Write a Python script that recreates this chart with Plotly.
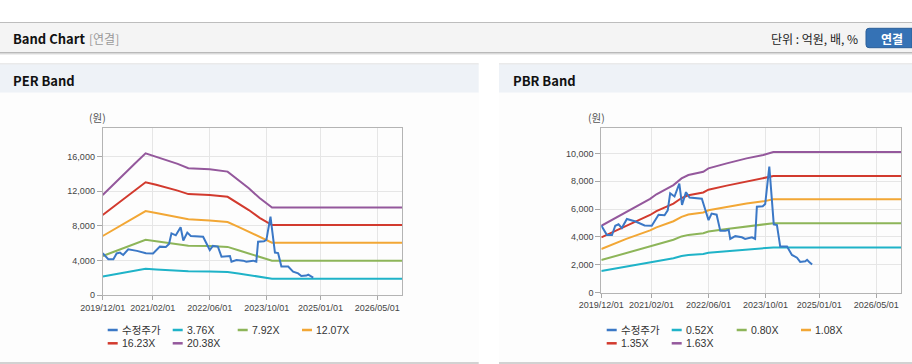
import plotly.graph_objects as go

# ---------------- data ----------------
price_name = "수정주가"
price_dates = ["2019-12-01", "2019-12-20", "2020-01-18", "2020-03-01", "2020-03-29", "2020-04-26",
               "2020-05-24", "2020-07-06", "2020-09-18", "2020-12-04", "2021-02-03", "2021-04-02",
               "2021-05-23", "2021-06-19", "2021-07-10", "2021-08-16", "2021-09-26", "2021-10-19",
               "2021-11-22", "2021-12-22", "2022-04-06", "2022-05-04", "2022-06-02", "2022-06-28",
               "2022-08-10", "2022-09-10", "2022-10-22", "2022-11-21", "2022-12-04", "2023-01-16",
               "2023-03-13", "2023-04-10", "2023-06-07", "2023-07-04", "2023-07-19", "2023-09-07",
               "2023-09-28", "2023-10-13", "2023-11-02", "2023-11-18", "2023-12-10", "2024-01-06",
               "2024-02-03", "2024-04-01", "2024-05-13", "2024-06-25", "2024-07-22", "2024-09-04",
               "2024-09-19", "2024-10-07", "2024-11-01"]
price_vals = [4820, 4500, 4130, 4130, 4800, 4900,
              4630, 5280, 5100, 4820, 4800, 5590,
              5550, 5900, 7130, 6900, 7830, 6300,
              7210, 6820, 6740, 5980, 5200, 5670,
              5590, 4430, 4430, 4500, 3850, 4050,
              3970, 3850, 3970, 3850, 6160, 6200,
              6360, 7520, 9050, 7300, 4900, 4850,
              3300, 3300, 2700, 2500, 2200, 2250,
              2350, 2200, 2020]

per_names = ["3.76X", "7.92X", "12.07X", "16.23X", "20.38X"]
per_dates = ["2019-12-01", "2020-03-01", "2020-06-01", "2020-09-01", "2020-12-01", "2021-03-01",
             "2021-06-01", "2021-09-01", "2021-12-01", "2022-06-01", "2022-11-01", "2023-02-01",
             "2023-05-01", "2023-08-01", "2023-11-15", "2026-12-01"]
per_376 = [2130, 2360, 2590, 2810, 3030, 2960, 2890, 2820, 2740, 2720, 2670, 2490, 2310, 2100, 1890, 1890]
per_792 = [4500, 4980, 5450, 5920, 6370, 6220, 6070, 5890, 5700, 5650, 5560, 5170, 4790, 4360, 3960, 3960]
per_1207 = [6820, 7550, 8270, 9000, 9700, 9470, 9240, 8970, 8750, 8610, 8440, 7880, 7300, 6650, 6050, 6050]
per_1623 = [9250, 10200, 11150, 12100, 13030, 12740, 12420, 12060, 11660, 11570, 11350, 10590, 9820, 8920, 8090, 8090]
per_2038 = [11560, 12800, 14000, 15200, 16380, 16000, 15600, 15150, 14650, 14530, 14260, 13300, 12330, 11200, 10100, 10100]

pbr_names = ["0.52X", "0.80X", "1.08X", "1.35X", "1.63X"]
pbr_dates = ["2019-12-01", "2020-07-01", "2021-01-20", "2021-03-15", "2021-08-07", "2021-10-15",
             "2021-12-12", "2022-04-18", "2022-06-01", "2022-11-04", "2023-04-22", "2023-09-12",
             "2023-12-06", "2026-12-01"]
pbr_052 = [1540, 1850, 2150, 2250, 2460, 2620, 2690, 2770, 2850, 2960, 3080, 3150, 3240, 3240]
pbr_080 = [2330, 2850, 3300, 3470, 3790, 4030, 4140, 4260, 4380, 4560, 4730, 4850, 4980, 4980]
pbr_108 = [3120, 3850, 4460, 4680, 5120, 5440, 5600, 5750, 5910, 6150, 6390, 6550, 6700, 6700]
pbr_135 = [3960, 4800, 5570, 5850, 6390, 6790, 6990, 7190, 7390, 7680, 7980, 8180, 8370, 8370]
pbr_163 = [4790, 5800, 6730, 7060, 7720, 8200, 8440, 8680, 8920, 9280, 9640, 9880, 10090, 10090]

x_tickvals = ["2019-12-01", "2021-02-01", "2022-06-01", "2023-10-01", "2025-01-01", "2026-05-01"]
x_ticktext = ["2019/12/01", "2021/02/01", "2022/06/01", "2023/10/01", "2025/01/01", "2026/05/01"]
per_yticks = [0, 4000, 8000, 12000, 16000]
pbr_yticks = [0, 2000, 4000, 6000, 8000, 10000]

# ---------------- style ----------------
W, H = 912, 364
band_colors = ["#1fb3c8", "#8db559", "#f2a735", "#d23a2e", "#94589c"]
price_color = "#3b78c6"
LAT = "Liberation Sans, Arial, Noto Sans CJK KR, sans-serif"
KR = "Noto Sans CJK KR, Noto Sans, sans-serif"


def X(px):
    return px / W


def Y(py):
    return 1 - py / H


fig = go.Figure()

per_bands = [per_376, per_792, per_1207, per_1623, per_2038]
pbr_bands = [pbr_052, pbr_080, pbr_108, pbr_135, pbr_163]

for vals, name, col in zip(per_bands, per_names, band_colors):
    fig.add_trace(go.Scatter(x=per_dates, y=vals, name=name, mode="lines",
                             line=dict(color=col, width=2), showlegend=False,
                             xaxis="x", yaxis="y"))
fig.add_trace(go.Scatter(x=price_dates, y=price_vals, name=price_name, mode="lines",
                         line=dict(color=price_color, width=2), showlegend=False,
                         xaxis="x", yaxis="y"))

for vals, name, col in zip(pbr_bands, pbr_names, band_colors):
    fig.add_trace(go.Scatter(x=pbr_dates, y=vals, name=name, mode="lines",
                             line=dict(color=col, width=2), showlegend=False,
                             xaxis="x2", yaxis="y2"))
fig.add_trace(go.Scatter(x=price_dates, y=price_vals, name=price_name, mode="lines",
                         line=dict(color=price_color, width=2), showlegend=False,
                         xaxis="x2", yaxis="y2"))

axis_common = dict(showline=True, linecolor="#b4b4b4", linewidth=1, mirror=True,
                   showgrid=True, gridcolor="#e6e6e6", gridwidth=1, zeroline=False,
                   automargin=False,
                   ticks="outside", tickcolor="#a8a8a8", tickfont=dict(family=LAT, size=9, color="#444"))

fig.update_layout(
    template="none",
    width=W, height=H, margin=dict(l=0, r=0, t=0, b=0, pad=0, autoexpand=False),
    paper_bgcolor="white", plot_bgcolor="white", showlegend=False,
    xaxis=dict(domain=[X(102.7), X(402.3)], anchor="y", type="date",
               range=["2019-12-01", "2026-12-01"], tickvals=x_tickvals, ticktext=x_ticktext,
               ticklen=4, **axis_common),
    yaxis=dict(domain=[Y(295), Y(128)], anchor="x", range=[0, 19300], tickvals=per_yticks,
               tickformat=",", ticklen=5, **axis_common),
    xaxis2=dict(domain=[X(601.3), X(901.3)], anchor="y2", type="date",
                range=["2019-12-01", "2026-12-01"], tickvals=x_tickvals, ticktext=x_ticktext,
                ticklen=4, **axis_common),
    yaxis2=dict(domain=[Y(292.5), Y(128.3)], anchor="x2", range=[0, 11800], tickvals=pbr_yticks,
                tickformat=",", ticklen=5, **axis_common),
)

shapes = []


def rect(x0, y0, x1, y1, color):
    shapes.append(dict(type="rect", xref="paper", yref="paper", x0=X(x0), x1=X(x1),
                       y0=Y(y1), y1=Y(y0), fillcolor=color, line=dict(width=0), layer="below"))


# top header strip
rect(0, 22, W, 23, "#bdbdbd")
rect(0, 23, W, 52, "#f4f4f4")
rect(0, 52, W, 53, "#b9b9b9")
rect(0, 53, W, 54, "#d9d9d9")
rect(0, 54, W, 55, "#eeeeee")

# panels
for (p0, p1) in [(0, 478.7), (499, W)]:
    rect(p0, 63.5, p1, 64.5, "#d6d6d6")
    rect(p0, 64.5, p1, 92.7, "#eef2f7")
    rect(p0, 92.7, p1, 362, "#fdfdfd")
    rect(p0, 362, p1, 364, "#d2d2d2")

# button (rounded)
bx0, bx1, by0, by1, r = 866, W, 28.3, 47.7, 3
path = (f"M {X(bx0 + r)} {Y(by0)} L {X(bx1)} {Y(by0)} L {X(bx1)} {Y(by1)} L {X(bx0 + r)} {Y(by1)} "
        f"Q {X(bx0)} {Y(by1)} {X(bx0)} {Y(by1 - r)} L {X(bx0)} {Y(by0 + r)} "
        f"Q {X(bx0)} {Y(by0)} {X(bx0 + r)} {Y(by0)} Z")
shapes.append(dict(type="path", xref="paper", yref="paper", path=path,
                   fillcolor="#3572b5", line=dict(color="#2b5f99", width=1), layer="below"))

annotations = []


def text(px, py, s, size=12, color="#333", family=KR, anchor="left", bold=False):
    if bold:
        s = f"<b>{s}</b>"
    annotations.append(dict(xref="paper", yref="paper", x=X(px), y=Y(py), text=s,
                            showarrow=False, xanchor=anchor, yanchor="middle",
                            font=dict(family=family, size=size, color=color)))


text(11, 38.5, "Band Chart", 13, "#111", bold=True)
text(87, 38.5, "[연결]", 12, "#999")
text(860, 39, "단위 : 억원, 배, %", 12, "#222", anchor="right")
text(891.7, 38.5, "연결", 12, "white", anchor="center", bold=True)
text(11, 80, "PER Band", 13, "#111", bold=True)
text(510.5, 80, "PBR Band", 13, "#111", bold=True)
text(87, 118, "(원)", 10.5, "#555")
text(586, 118, "(원)", 10.5, "#555")

# manual legends
legend_rows = [330, 343.3]
for xoff, names in [(0, [price_name] + per_names), (499, [price_name] + pbr_names)]:
    colors = [price_color] + band_colors
    cols = [107.7, 172.7, 237.7, 302]
    for i, (nm, col) in enumerate(zip(names, colors)):
        cx = cols[i % 4] + xoff
        cy = legend_rows[i // 4]
        shapes.append(dict(type="line", xref="paper", yref="paper", x0=X(cx), x1=X(cx + 10),
                           y0=Y(cy), y1=Y(cy), line=dict(color=col, width=2.5)))
        text(cx + 12, cy, nm, 10.5, "#333", family=LAT)

fig.update_layout(shapes=shapes, annotations=annotations)

fig.write_html("out.html",
               config={"displayModeBar": False},
               post_script="document.body.style.margin='0';document.body.style.padding='0';"
                           "document.body.style.overflow='hidden';")
